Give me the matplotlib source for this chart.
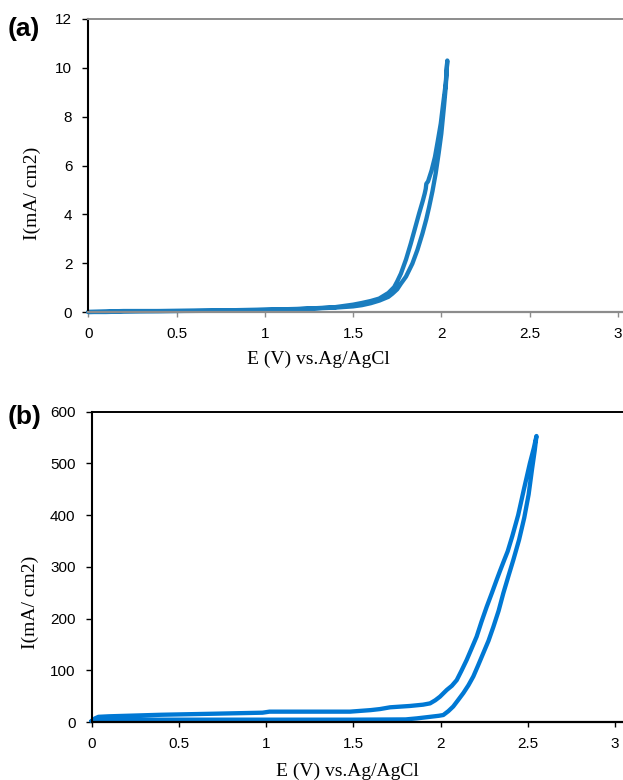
import matplotlib
matplotlib.use("Agg")
import matplotlib.pyplot as plt

# ---- Panel (a): cyclic voltammogram, 0 -> ~2.03 V ----
E_a_fwd = [0.0, 0.1, 0.2, 0.3, 0.5, 0.7, 0.9, 1.0, 1.1, 1.2, 1.3, 1.4, 1.5,
           1.55, 1.6, 1.65, 1.7, 1.723, 1.75, 1.771, 1.8, 1.836, 1.865, 1.893,
           1.915, 1.931, 1.95, 1.968, 1.985, 2.0, 2.015, 2.025, 2.034]
I_a_fwd = [0.0, 0.0, 0.02, 0.03, 0.04, 0.05, 0.07, 0.08, 0.1, 0.12, 0.15, 0.18, 0.23,
           0.28, 0.36, 0.47, 0.62, 0.75, 0.93, 1.16, 1.45, 1.98, 2.55, 3.21,
           3.8, 4.3, 4.95, 5.67, 6.5, 7.3, 8.4, 9.2, 10.3]
E_a_rev = [2.034, 2.025, 2.01, 1.997, 1.98, 1.964, 1.945, 1.925, 1.915, 1.912, 1.906,
           1.895, 1.874, 1.85, 1.827, 1.8, 1.771, 1.75, 1.733, 1.7, 1.648, 1.6, 1.55,
           1.5, 1.4, 1.3, 1.2, 1.1, 1.0, 0.8, 0.6, 0.4, 0.2, 0.1, 0.0]
I_a_rev = [10.3, 9.36, 8.5, 7.72, 7.0, 6.35, 5.8, 5.35, 5.25, 5.05, 4.85,
           4.55, 4.03, 3.4, 2.8, 2.15, 1.57, 1.25, 1.02, 0.78, 0.55, 0.45, 0.37,
           0.3, 0.2, 0.16, 0.13, 0.11, 0.1, 0.07, 0.05, 0.04, 0.04, 0.02, 0.0]

# ---- Panel (b): cyclic voltammogram, 0 -> ~2.55 V ----
E_b_fwd = [0.0, 0.02, 0.05, 0.5, 1.0, 1.5, 1.8, 1.864, 1.94, 1.99, 2.016, 2.045,
           2.073, 2.1, 2.131, 2.16, 2.188, 2.215, 2.245, 2.275, 2.303, 2.333, 2.36,
           2.39, 2.417, 2.45, 2.48, 2.505, 2.525, 2.54, 2.55]
I_b_fwd = [2, 4, 4.5, 4.5, 4.5, 4.5, 5, 7, 10, 12, 13.5, 21,
           30, 42, 56, 71, 88, 109, 133, 157, 184, 215, 249,
           283, 313, 352, 395, 440, 490, 525, 553]
E_b_rev = [2.55, 2.535, 2.512, 2.478, 2.445, 2.412, 2.385, 2.365, 2.342, 2.322, 2.295,
           2.265, 2.235, 2.207, 2.178, 2.15, 2.12, 2.093, 2.065, 2.036, 2.015, 1.997,
           1.97, 1.94, 1.9, 1.825, 1.711, 1.653, 1.6, 1.481, 1.2, 1.02, 0.98, 0.7,
           0.4, 0.1, 0.04, 0.02, 0.0]
I_b_rev = [553, 530, 500, 450, 400, 360, 330, 313, 293, 275, 250,
           223, 194, 165, 142, 120, 99, 81, 70, 62, 55, 49,
           42, 36, 33.5, 31, 28.4, 25, 23, 20, 20, 20, 18, 16,
           14, 11, 10, 7, 2]

x_ticks = [0, 0.5, 1, 1.5, 2, 2.5, 3]
x_tick_labels = ["0", "0.5", "1", "1.5", "2", "2.5", "3"]
y_ticks_a = [0, 2, 4, 6, 8, 10, 12]
y_ticks_b = [0, 100, 200, 300, 400, 500, 600]

xlabel = "E (V) vs.Ag/AgCl"
ylabel = "I(mA/ cm2)"

W, H = 623, 780
fig = plt.figure(figsize=(W / 100, H / 100), dpi=100)

serif = ["Liberation Serif", "DejaVu Serif"]
sans = ["Liberation Sans", "DejaVu Sans"]


def add_axes(left_px, zero_px, top_px, px_per_unit):
    left = left_px / W
    width = (W - left_px) / W
    bottom = (H - zero_px) / H
    height = (zero_px - top_px) / H
    ax = fig.add_axes([left, bottom, width, height])
    ax.set_xlim(0, (W - left_px) / px_per_unit)
    return ax


def style(ax, yticks, ymax, spine_top, spine_bottom, xtick_color):
    ax.set_ylim(0, ymax)
    ax.set_xticks(x_ticks)
    ax.set_xticklabels(x_tick_labels)
    ax.set_yticks(yticks)
    ax.set_yticklabels([str(v) for v in yticks])
    ax.spines["right"].set_visible(False)
    ax.spines["left"].set_color("black")
    ax.spines["left"].set_linewidth(1.5)
    ax.spines["top"].set_color(spine_top)
    ax.spines["top"].set_linewidth(1.4)
    ax.spines["bottom"].set_color(spine_bottom)
    ax.spines["bottom"].set_linewidth(1.6)
    ax.tick_params(axis="y", direction="out", length=4.5, width=1.0, color="black",
                   pad=7, labelsize=11)
    ax.tick_params(axis="x", direction="out", length=3.5, width=1.0, color=xtick_color,
                   pad=7, labelsize=11)
    for lab in ax.get_xticklabels() + ax.get_yticklabels():
        lab.set_fontfamily(sans)
    ax.patch.set_visible(False)


# Panel (a)
ax_a = add_axes(88.3, 312.0, 19.0, 176.5)
ax_a.plot(E_a_fwd + E_a_rev, I_a_fwd + I_a_rev, color="#1a7dbf", lw=3.1,
          solid_joinstyle="round", solid_capstyle="round", clip_on=False)
style(ax_a, y_ticks_a, 12, "#8c8c8c", "#8c8c8c", "#8c8c8c")

# Panel (b)
ax_b = add_axes(91.5, 722.0, 411.7, 174.5)
ax_b.plot(E_b_fwd + E_b_rev, I_b_fwd + I_b_rev, color="#0078d4", lw=3.1,
          solid_joinstyle="round", solid_capstyle="round", clip_on=False)
style(ax_b, y_ticks_b, 600, "black", "black", "black")

# Axis titles
fig.text(318 / W, 1 - 359 / H, xlabel, ha="center", va="center",
         fontsize=14, family=serif)
fig.text(32 / W, 1 - 193 / H, ylabel, ha="center", va="center",
         fontsize=14, family=serif, rotation=90)
fig.text(347 / W, 1 - 771 / H, xlabel, ha="center", va="center",
         fontsize=14, family=serif)
fig.text(30 / W, 1 - 602 / H, ylabel, ha="center", va="center",
         fontsize=14, family=serif, rotation=90)

# Panel tags
fig.text(24 / W, 1 - 29 / H, "(a)", ha="center", va="center",
         fontsize=19, fontweight="bold", family=sans)
fig.text(25 / W, 1 - 417 / H, "(b)", ha="center", va="center",
         fontsize=19, fontweight="bold", family=sans)

fig.savefig("out.png", dpi=100)
